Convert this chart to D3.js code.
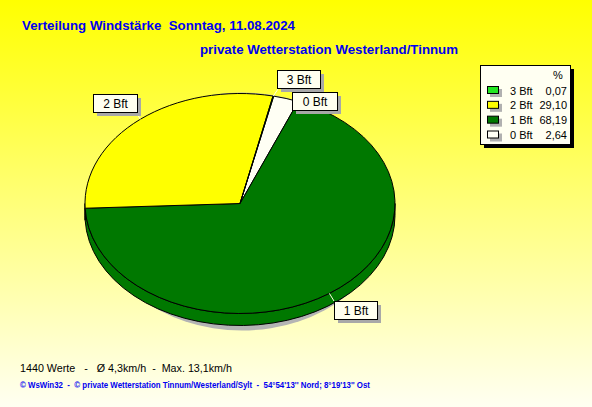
<!DOCTYPE html>
<html><head><meta charset="utf-8">
<script src="https://cdn.jsdelivr.net/npm/d3@7"></script>
<style>html,body{margin:0;padding:0;overflow:hidden;background:#fff} text{white-space:pre}</style>
</head><body>
<svg id="c" width="592" height="407"></svg>
<script>
// ---- data ----
const categories = ["0 Bft", "1 Bft", "2 Bft", "3 Bft"];
const values = [2.64, 68.19, 29.10, 0.07];
const colors = ["#fffff4", "#007800", "#ffff00", "#22e622"];
const legendOrder = ["3 Bft", "2 Bft", "1 Bft", "0 Bft"];
const titleText = "Verteilung Windstärke  Sonntag, 11.08.2024";
const subtitleText = "private Wetterstation Westerland/Tinnum";
const infoText = "1440 Werte   -   Ø 4,3km/h  -  Max. 13,1km/h";
const footerText = "© WsWin32  -  © private Wetterstation Tinnum/Westerland/Sylt  -  54°54'13'' Nord; 8°19'13'' Ost";

const svg = d3.select("#c");
const defs = svg.append("defs");
const g0 = defs.append("linearGradient").attr("id","bg").attr("x1",0).attr("y1",0).attr("x2",0).attr("y2",1);
g0.append("stop").attr("offset","0%").attr("stop-color","#ffff00");
g0.append("stop").attr("offset","100%").attr("stop-color","#fffff2");
svg.append("rect").attr("width",592).attr("height",407).attr("fill","url(#bg)");

const FF = "Liberation Sans, Arial, sans-serif";
// titles
svg.append("text").attr("x",22).attr("y",29.5).text(titleText)
  .attr("font-family",FF).attr("font-weight","bold").attr("font-size",13).attr("fill","#0000f0")
  .attr("textLength",273).attr("lengthAdjust","spacingAndGlyphs");
svg.append("text").attr("x",200).attr("y",53.5).text(subtitleText)
  .attr("font-family",FF).attr("font-weight","bold").attr("font-size",13).attr("fill","#0000f0")
  .attr("textLength",258).attr("lengthAdjust","spacingAndGlyphs");

// pie geometry
const cx = 240, cy = 203.5, rx = 155, ry = 110, depth = 12;
const rot = 0.219;
const pie = d3.pie().sort(null).value(d => d).startAngle(rot).endAngle(rot + 2*Math.PI);
const arcs = pie(values);
const px = a => cx + rx*Math.sin(a);
const py = a => cy - ry*Math.cos(a);

// shadow
svg.append("ellipse").attr("cx",242).attr("cy",211.5).attr("rx",148).attr("ry",119).attr("fill","#b4b4b4");

const TAU = 2*Math.PI;
function sidePath(a0, a1) {
  let s = [];
  for (let k = -1; k <= 1; k++) {
    const lo = Math.max(a0, Math.PI/2 + k*TAU), hi = Math.min(a1, 1.5*Math.PI + k*TAU);
    if (hi > lo) s.push([lo, hi]);
  }
  return s.map(([lo, hi]) => {
    const large = (hi - lo) > Math.PI ? 1 : 0;
    return `M${px(lo)},${py(lo)} A${rx},${ry} 0 ${large} 1 ${px(hi)},${py(hi)} L${px(hi)},${py(hi)+depth} A${rx},${ry} 0 ${large} 0 ${px(lo)},${py(lo)+depth} Z`;
  }).join(" ");
}
svg.append("g").selectAll("path").data(arcs).join("path")
  .attr("d", d => sidePath(d.startAngle, d.endAngle))
  .attr("fill", (d,i) => colors[i]).attr("stroke","#000").attr("stroke-width",1);

function topPath(a0, a1) {
  const large = (a1 - a0) > Math.PI ? 1 : 0;
  return `M${cx},${cy} L${px(a0)},${py(a0)} A${rx},${ry} 0 ${large} 1 ${px(a1)},${py(a1)} Z`;
}
svg.append("g").selectAll("path").data(arcs).join("path")
  .attr("d", d => topPath(d.startAngle, d.endAngle))
  .attr("fill", (d,i) => colors[i]).attr("stroke","#000").attr("stroke-width",1).attr("stroke-linejoin","round");

// labels
const labelOff = {
  "0 Bft": {bx: 292, by: 92, w: 45, ax: 0, ay: 0, line: false},
  "1 Bft": {bx: 334, by: 301, w: 43, ax: 334, ay: 301, line: true},
  "2 Bft": {bx: 93, by: 94, w: 44, ax: 137, ay: 113, line: true},
  "3 Bft": {bx: 277, by: 70, w: 43, ax: 278, ay: 89, line: true}
};
const lg = svg.append("g");
arcs.forEach((d,i) => {
  const name = categories[i];
  const o = labelOff[name];
  const mid = (d.startAngle + d.endAngle)/2;
  const ex = px(mid), ey = py(mid);
  if (o.line) lg.append("line").attr("x1",ex).attr("y1",ey).attr("x2",o.ax).attr("y2",o.ay)
     .attr("stroke","#ffffe0").attr("stroke-width",1);
  lg.append("rect").attr("x",o.bx+4).attr("y",o.by+4).attr("width",o.w).attr("height",18).attr("fill","#a8a8a8");
  lg.append("rect").attr("x",o.bx+0.5).attr("y",o.by+0.5).attr("width",o.w).attr("height",18)
    .attr("fill","#fffff0").attr("stroke","#000").attr("stroke-width",1);
  lg.append("text").attr("x",o.bx + o.w/2 + 0.5).attr("y",o.by+14).attr("text-anchor","middle")
    .attr("font-family",FF).attr("font-size",12).attr("fill","#000").text(name);
});

// legend
const leg = svg.append("g");
leg.append("rect").attr("x",484).attr("y",69).attr("width",90).attr("height",79).attr("fill","#000");
leg.append("rect").attr("x",480.5).attr("y",65.5).attr("width",90).attr("height",79).attr("fill","#fffff2").attr("stroke","#000");
leg.append("text").attr("x",553).attr("y",79).attr("font-family",FF).attr("font-size",11).text("%");
const ly = d3.scalePoint().domain(legendOrder).range([90, 134.5]);
legendOrder.forEach(name => {
  const i = categories.indexOf(name);
  const y = ly(name);
  leg.append("rect").attr("x",490).attr("y",y-1).attr("width",12).attr("height",8).attr("fill","#b0b0b0");
  leg.append("rect").attr("x",487.5).attr("y",y-3.5).attr("width",11).attr("height",7).attr("fill",colors[i]).attr("stroke","#000");
  leg.append("text").attr("x",510).attr("y",y+4.5).attr("font-family",FF).attr("font-size",11).text(name);
  leg.append("text").attr("x",567).attr("y",y+4.5).attr("text-anchor","end").attr("font-family",FF).attr("font-size",11)
    .text(values[i].toFixed(2).replace(".", ","));
});

// footer texts
svg.append("text").attr("x",20).attr("y",372).attr("font-family",FF).attr("font-size",11.5).attr("fill","#000")
  .attr("textLength",212).attr("lengthAdjust","spacingAndGlyphs").text(infoText);
svg.append("text").attr("x",20).attr("y",388).attr("font-family",FF).attr("font-size",8.5).attr("font-weight","bold").attr("fill","#0000f0")
  .attr("textLength",350).attr("lengthAdjust","spacingAndGlyphs").text(footerText);
</script>
</body></html>
